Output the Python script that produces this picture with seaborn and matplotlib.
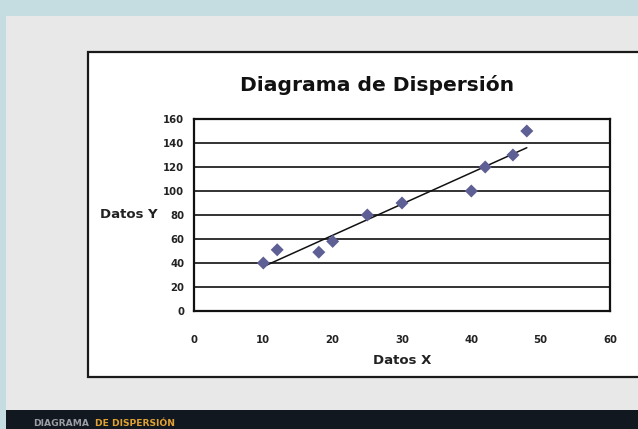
import matplotlib
matplotlib.use("Agg")
import matplotlib.pyplot as plt
import matplotlib.patches as patches
import seaborn as sns
import pandas as pd

# datos
datos_x = [10, 12, 18, 20, 25, 30, 40, 42, 46, 48]
datos_y = [40, 51, 49, 58, 80, 90, 100, 120, 130, 150]
x_ticks = [0, 10, 20, 30, 40, 50, 60]
y_ticks = [0, 20, 40, 60, 80, 100, 120, 140, 160]

titulo = "Diagrama de Dispersión"
pie_gris = "DIAGRAMA"
pie_oro = "DE DISPERSIÓN"

df = pd.DataFrame({"x": datos_x, "y": datos_y})

sns.set_style("white")
plt.rcParams['font.family'] = ['DejaVu Sans']

fig = plt.figure(figsize=(6.38, 4.29), dpi=100)
fig.patch.set_facecolor("#c5dde0")

W, H = 638, 429
def rect(x0, y0, x1, y1, **kw):
    # pixel coords (top-left origin) -> figure fraction
    fig.patches.append(patches.Rectangle((x0 / W, 1 - y1 / H), (x1 - x0) / W, (y1 - y0) / H,
                                         transform=fig.transFigure, figure=fig, zorder=0, **kw))

rect(6, 16, 640, 410, facecolor="#e8e8e8", edgecolor="none")
rect(6, 410, 640, 430, facecolor="#111820", edgecolor="none")
rect(88, 52, 660, 377, facecolor="white", edgecolor="#1a1a1a", linewidth=1.6)

ax = fig.add_axes([194 / W, 1 - 311 / H, (610 - 194) / W, (311 - 119) / H])
ax.set_zorder(5)
ax.set_facecolor("white")

sns.regplot(data=df, x="x", y="y", ax=ax, scatter=False, ci=None, truncate=True,
            line_kws={"color": "#111111", "linewidth": 1.1, "zorder": 3})
sns.scatterplot(data=df, x="x", y="y", ax=ax, marker="D", s=44, color="#5d5f95",
                edgecolor="none", zorder=4)

ax.set_xlim(0, 60)
ax.set_ylim(0, 160)
ax.set_xticks(x_ticks)
ax.set_yticks(y_ticks)
ax.yaxis.grid(True, color="#222222", linewidth=1.3)
ax.set_axisbelow(True)
for s in ax.spines.values():
    s.set_visible(True)
    s.set_color("#111111")
    s.set_linewidth(1.6)
ax.tick_params(axis="both", length=0, labelsize=7.3, colors="#222222")
ax.tick_params(axis="x", pad=17)
ax.tick_params(axis="y", pad=7)
for lab in ax.get_xticklabels() + ax.get_yticklabels():
    lab.set_fontweight("bold")

ax.set_xlabel("Datos X", fontsize=9.5, fontweight="bold", color="#222222", labelpad=7)
ax.set_ylabel("Datos Y", fontsize=9.5, fontweight="bold", color="#222222", rotation=0,
              ha="right", va="center")
ax.yaxis.set_label_coords(-0.087, 0.5)

fig.text(377 / W, 1 - 85 / H, titulo, ha="center", va="center", fontsize=14.6,
         fontweight="bold", color="#111111")

fig.text(33 / W, 1 - 423 / H, pie_gris, ha="left", va="center", fontsize=6.6,
         fontweight="bold", color="#9a9ea4")
fig.text(95 / W, 1 - 423 / H, pie_oro, ha="left", va="center", fontsize=6.6,
         fontweight="bold", color="#e2a232")

fig.savefig("out.png", dpi=100, facecolor=fig.get_facecolor())
